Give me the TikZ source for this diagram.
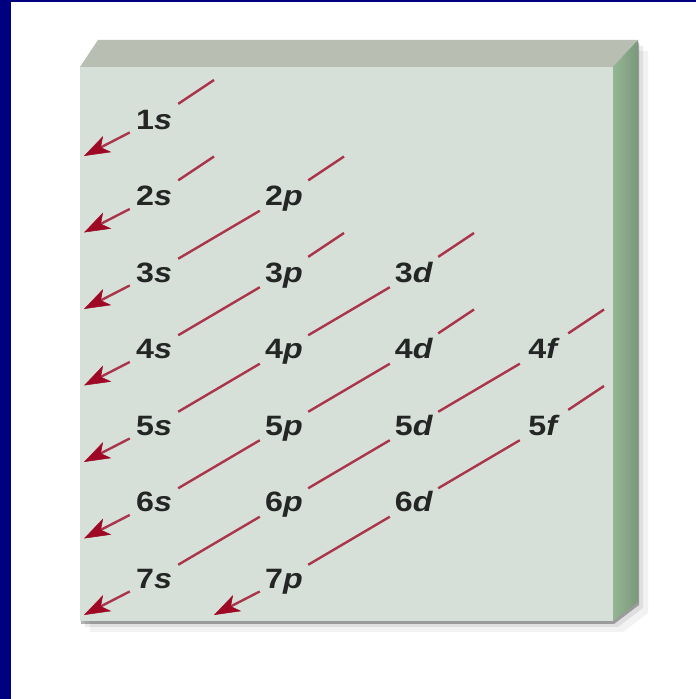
\documentclass[tikz,border=0pt]{standalone}
\usepackage{fontspec}
\newfontfamily\orbfont{Liberation Sans}[FakeStretch=1.15]
\usetikzlibrary{arrows.meta,positioning}
\definecolor{frameblue}{RGB}{0,0,128}
\definecolor{boardfront}{RGB}{214,224,217}
\definecolor{boardtop}{RGB}{184,190,178}
\definecolor{boardside}{RGB}{148,182,147}
\definecolor{boardsidedark}{RGB}{122,152,122}
\definecolor{diagred}{RGB}{170,52,74}
\definecolor{tipred}{RGB}{158,8,36}
\definecolor{orbgray}{RGB}{36,38,38}

\begin{document}
\begin{tikzpicture}[
    x=1pt, y=1pt,
    node distance=76.5pt and 130pt, on grid,
    orb/.style={font=\orbfont\bfseries\fontsize{28}{32}\selectfont, text=orbgray,
                minimum width=48pt, text height=22pt, text depth=3pt, inner sep=4pt},
    diag/.style={draw=diagred, line width=2.4pt},
    arrow/.style={diag, -{Stealth[length=26pt, width=18pt, inset=7pt,
                  line width=0.5pt, color=tipred]}},
  ]
  \useasboundingbox (0,0) rectangle (696,699);
  % frame
  \fill[frameblue] (0,0) rectangle (696,699);
  \fill[white] (11,0) rectangle (696,697);
  % board and its shadow
  \fill[black, opacity=0.05, shift={(10,-11)}] (80,78) -- (613,78) -- (638,97) -- (638,659) -- (98,659) -- (80,632) -- cycle;
  \fill[black, opacity=0.08, shift={(5,-6)}] (80,78) -- (613,78) -- (638,97) -- (638,659) -- (98,659) -- (80,632) -- cycle;
  \fill[black, opacity=0.3, shift={(1,-3)}] (80,78) -- (613,78) -- (638,97) -- (638,659) -- (98,659) -- (80,632) -- cycle;
  \fill[boardtop] (80,632) -- (98,659) -- (638,659) -- (613,632) -- cycle;
  \shade[left color=boardside, right color=boardsidedark] (613,78) -- (638,97) -- (638,659) -- (613,632) -- cycle;
  \fill[boardfront] (80,78) rectangle (613,632);

  % orbital labels
  \node[orb] (s1) at (154,579) {1\textit{s}};
  \node[orb, below=of s1] (s2) {2\textit{s}};
  \node[orb, below=of s2] (s3) {3\textit{s}};
  \node[orb, below=of s3] (s4) {4\textit{s}};
  \node[orb, below=of s4] (s5) {5\textit{s}};
  \node[orb, below=of s5] (s6) {6\textit{s}};
  \node[orb, below=of s6] (s7) {7\textit{s}};
  \node[orb, right=of s2] (p2) {2\textit{p}};
  \node[orb, below=of p2] (p3) {3\textit{p}};
  \node[orb, below=of p3] (p4) {4\textit{p}};
  \node[orb, below=of p4] (p5) {5\textit{p}};
  \node[orb, below=of p5] (p6) {6\textit{p}};
  \node[orb, below=of p6] (p7) {7\textit{p}};
  \node[orb, right=of p3] (d3) {3\textit{d}};
  \node[orb, below=of d3] (d4) {4\textit{d}};
  \node[orb, below=of d4] (d5) {5\textit{d}};
  \node[orb, below=of d5] (d6) {6\textit{d}};
  \node[orb, right=of d4] (f4) {4\textit{f}};
  \node[orb, below=of f4] (f5) {5\textit{f}};

  % loose ends of the diagonals
  \coordinate[above right=40pt and 60pt of s1] (s1t);
  \coordinate[above right=40pt and 60pt of s2] (s2t);
  \coordinate[above right=40pt and 60pt of p2] (p2t);
  \coordinate[above right=40pt and 60pt of p3] (p3t);
  \coordinate[above right=40pt and 60pt of d3] (d3t);
  \coordinate[above right=40pt and 60pt of d4] (d4t);
  \coordinate[above right=40pt and 60pt of f4] (f4t);
  \coordinate[above right=40pt and 60pt of f5] (f5t);
  \coordinate[below left=36pt and 70pt of s1] (s1a);
  \coordinate[below left=36pt and 70pt of s2] (s2a);
  \coordinate[below left=36pt and 70pt of s3] (s3a);
  \coordinate[below left=36pt and 70pt of s4] (s4a);
  \coordinate[below left=36pt and 70pt of s5] (s5a);
  \coordinate[below left=36pt and 70pt of s6] (s6a);
  \coordinate[below left=36pt and 70pt of s7] (s7a);
  \coordinate[below left=36pt and 70pt of p7] (p7a);

  % filling order
  \draw[diag] (s1) -- (s1t);
  \draw[diag] (s2) -- (s2t);
  \draw[diag] (p2) -- (p2t);
  \draw[diag] (p3) -- (p3t);
  \draw[diag] (d3) -- (d3t);
  \draw[diag] (d4) -- (d4t);
  \draw[diag] (f4) -- (f4t);
  \draw[diag] (f5) -- (f5t);
  \draw[diag] (p2) -- (s3);
  \draw[diag] (p3) -- (s4);
  \draw[diag] (d3) -- (p4);
  \draw[diag] (p4) -- (s5);
  \draw[diag] (d4) -- (p5);
  \draw[diag] (p5) -- (s6);
  \draw[diag] (f4) -- (d5);
  \draw[diag] (d5) -- (p6);
  \draw[diag] (p6) -- (s7);
  \draw[diag] (f5) -- (d6);
  \draw[diag] (d6) -- (p7);
  \draw[arrow] (s1) -- (s1a);
  \draw[arrow] (s2) -- (s2a);
  \draw[arrow] (s3) -- (s3a);
  \draw[arrow] (s4) -- (s4a);
  \draw[arrow] (s5) -- (s5a);
  \draw[arrow] (s6) -- (s6a);
  \draw[arrow] (s7) -- (s7a);
  \draw[arrow] (p7) -- (p7a);
\end{tikzpicture}
\end{document}
